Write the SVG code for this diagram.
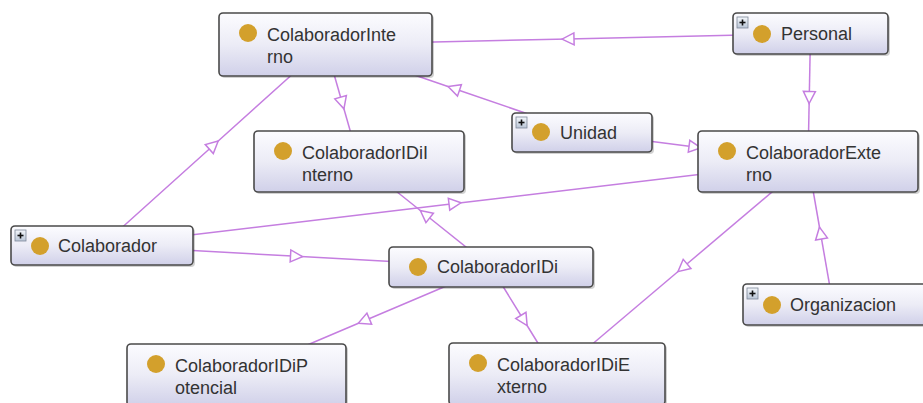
<svg xmlns="http://www.w3.org/2000/svg" width="923" height="403" viewBox="0 0 923 403">
  <style>
    .edge { fill: none; stroke: #c57ee0; stroke-width: 1.5; marker-mid: url(#tri); }
    .box { fill: url(#boxFill); stroke: #4a4a4a; stroke-width: 1.6; }
    .shadow { fill: #000; opacity: 0.18; }
    .dot { fill: #d3a02c; }
    .label { font-family: "Liberation Sans", Arial, sans-serif; font-size: 18px; fill: #333; }
    .exp { fill: url(#expFill); stroke: #7d8898; stroke-width: 0.8; }
    .plus { stroke: #111; stroke-width: 1.6; }
  </style>
  <defs>
    <linearGradient id="boxFill" x1="0" y1="0" x2="0" y2="1">
      <stop offset="0" stop-color="#fcfcff"/>
      <stop offset="0.5" stop-color="#ececf6"/>
      <stop offset="1" stop-color="#d0d0e9"/>
    </linearGradient>
    <linearGradient id="expFill" x1="0" y1="0" x2="0" y2="1">
      <stop offset="0" stop-color="#f4f7fb"/>
      <stop offset="1" stop-color="#b9c5d6"/>
    </linearGradient>
    <marker id="tri" markerUnits="userSpaceOnUse" markerWidth="18" markerHeight="18" viewBox="-9 -9 18 18" refX="0" refY="0" orient="auto">
      <path d="M6,0 L-6,-6 L-6,6 Z" fill="#fff" stroke="#c57ee0" stroke-width="1.5" stroke-linejoin="miter"/>
    </marker>
    <!-- expand toggle shown on collapsible classes -->
    <g id="expander">
      <rect class="exp" x="0" y="0" width="11" height="11"/>
      <line class="plus" x1="2.5" y1="5.5" x2="8.5" y2="5.5"/>
      <line class="plus" x1="5.5" y1="2.5" x2="5.5" y2="8.5"/>
    </g>
  </defs>

  <!-- subclass links, drawn centre to centre with the head at the midpoint -->
  <g id="edges">
    <path class="edge" d="M810.5,33.5 L568,39 L325.5,44.5"/>
    <path class="edge" d="M810.5,33.5 L809.25,97.5 L808,161.5"/>
    <path class="edge" d="M582,132.5 L453.75,88.5 L325.5,44.5"/>
    <path class="edge" d="M582,132.5 L695,147 L808,161.5"/>
    <path class="edge" d="M102,245.5 L213.75,145 L325.5,44.5"/>
    <path class="edge" d="M102,245.5 L455,203.5 L808,161.5"/>
    <path class="edge" d="M102,245.5 L296.5,256.25 L491,267"/>
    <path class="edge" d="M325.5,44.5 L342.25,103 L359,161.5"/>
    <path class="edge" d="M491,267 L425,214.25 L359,161.5"/>
    <path class="edge" d="M491,267 L363.75,321 L236.5,375"/>
    <path class="edge" d="M491,267 L524,320.5 L557,374"/>
    <path class="edge" d="M808,161.5 L682.5,267.75 L557,374"/>
    <path class="edge" d="M833,304.5 L820.5,233 L808,161.5"/>
  </g>

  <g id="ColaboradorInterno">
    <rect class="shadow" x="221" y="15" width="213" height="63" rx="4"/>
    <rect class="box" x="219" y="13" width="213" height="63" rx="4"/>
    <circle class="dot" cx="248" cy="33" r="9"/>
    <text class="label" x="267" y="41">ColaboradorInte</text>
    <text class="label" x="267" y="63">rno</text>
  </g>

  <g id="Personal">
    <rect class="shadow" x="735" y="15" width="155" height="41" rx="4"/>
    <rect class="box" x="733" y="13" width="155" height="41" rx="4"/>
    <use href="#expander" x="737" y="17"/>
    <circle class="dot" cx="762" cy="34" r="9"/>
    <text class="label" x="781" y="40">Personal</text>
  </g>

  <g id="Unidad">
    <rect class="shadow" x="514" y="115" width="140" height="39" rx="4"/>
    <rect class="box" x="512" y="113" width="140" height="39" rx="4"/>
    <use href="#expander" x="516" y="117"/>
    <circle class="dot" cx="541" cy="132" r="9"/>
    <text class="label" x="560" y="139">Unidad</text>
  </g>

  <g id="ColaboradorExterno">
    <rect class="shadow" x="700" y="133" width="220" height="61" rx="4"/>
    <rect class="box" x="698" y="131" width="220" height="61" rx="4"/>
    <circle class="dot" cx="727" cy="151" r="9"/>
    <text class="label" x="746" y="159">ColaboradorExte</text>
    <text class="label" x="746" y="181">rno</text>
  </g>

  <g id="ColaboradorIDiInterno">
    <rect class="shadow" x="256" y="133" width="210" height="61" rx="4"/>
    <rect class="box" x="254" y="131" width="210" height="61" rx="4"/>
    <circle class="dot" cx="283" cy="151" r="9"/>
    <text class="label" x="302" y="159">ColaboradorIDiI</text>
    <text class="label" x="302" y="181">nterno</text>
  </g>

  <g id="Colaborador">
    <rect class="shadow" x="13" y="228" width="182" height="39" rx="4"/>
    <rect class="box" x="11" y="226" width="182" height="39" rx="4"/>
    <use href="#expander" x="15" y="230"/>
    <circle class="dot" cx="40" cy="246" r="9"/>
    <text class="label" x="58" y="252">Colaborador</text>
  </g>

  <g id="ColaboradorIDi">
    <rect class="shadow" x="391" y="249" width="204" height="40" rx="4"/>
    <rect class="box" x="389" y="247" width="204" height="40" rx="4"/>
    <circle class="dot" cx="418" cy="267" r="9"/>
    <text class="label" x="437" y="273">ColaboradorIDi</text>
  </g>

  <g id="Organizacion">
    <rect class="shadow" x="745" y="286" width="190" height="41" rx="4"/>
    <rect class="box" x="743" y="284" width="190" height="41" rx="4"/>
    <use href="#expander" x="747" y="288"/>
    <circle class="dot" cx="772" cy="305" r="9"/>
    <text class="label" x="790" y="311">Organizacion</text>
  </g>

  <g id="ColaboradorIDiPotencial">
    <rect class="shadow" x="129" y="346" width="219" height="62" rx="4"/>
    <rect class="box" x="127" y="344" width="219" height="62" rx="4"/>
    <circle class="dot" cx="156" cy="364" r="9"/>
    <text class="label" x="175" y="372">ColaboradorIDiP</text>
    <text class="label" x="175" y="394">otencial</text>
  </g>

  <g id="ColaboradorIDiExterno">
    <rect class="shadow" x="451" y="345" width="216" height="62" rx="4"/>
    <rect class="box" x="449" y="343" width="216" height="62" rx="4"/>
    <circle class="dot" cx="478" cy="363" r="9"/>
    <text class="label" x="497" y="371">ColaboradorIDiE</text>
    <text class="label" x="497" y="393">xterno</text>
  </g>
</svg>
